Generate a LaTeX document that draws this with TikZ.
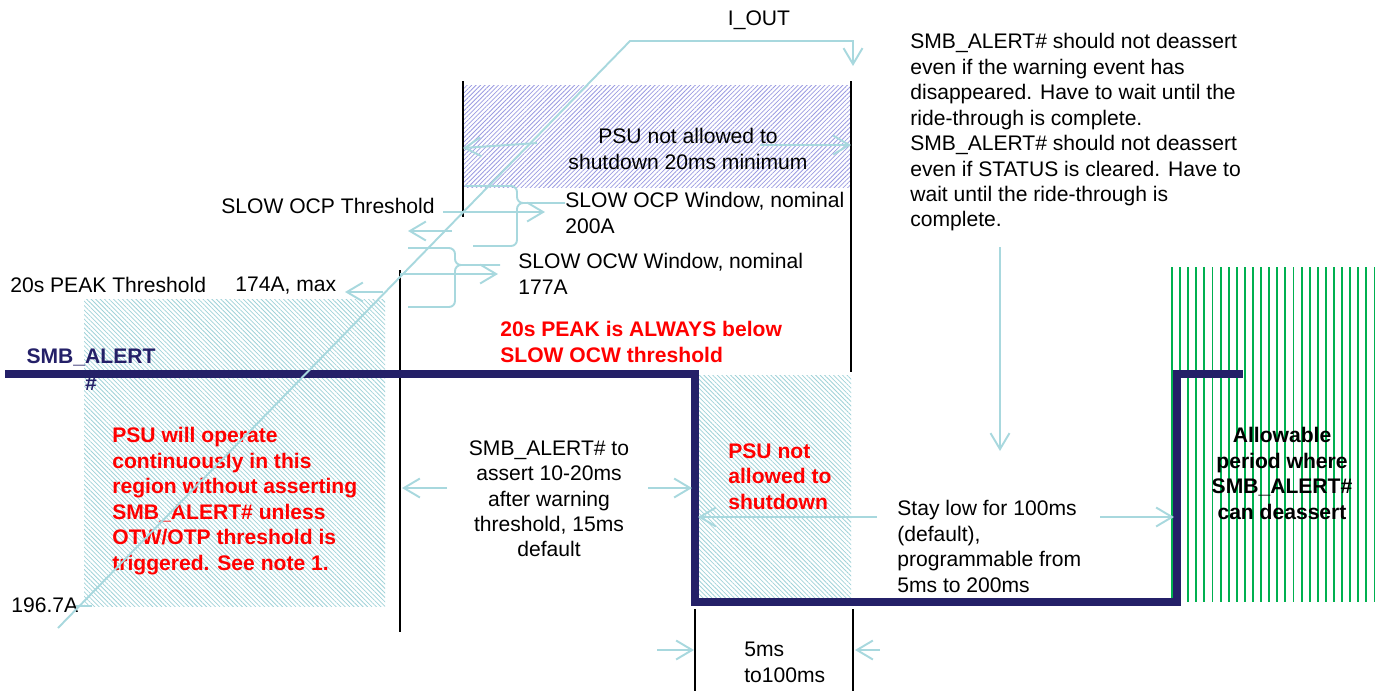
\documentclass[tikz,border=0pt]{standalone}
\usepackage{fontspec}
\setmainfont{Liberation Sans}
\usepackage{tikz}
\usetikzlibrary{arrows.meta,patterns.meta}
\definecolor{sigblue}{RGB}{36,32,104}
\definecolor{dimblue}{RGB}{168,216,222}
\definecolor{hatchblue}{RGB}{160,210,216}
\definecolor{hatchviolet}{RGB}{155,155,225}
\definecolor{okgreen}{RGB}{0,176,80}

\begin{document}
\begin{tikzpicture}[x=0.02cm, y=-0.02cm,
    txt/.style={inner sep=0pt, align=left, font=\fontsize{12}{14.5}\selectfont},
    alert/.style={txt, text=red, font=\fontsize{12}{14.5}\selectfont\bfseries},
    sigtxt/.style={txt, text=sigblue, font=\fontsize{12}{15.5}\selectfont\bfseries},
    dimline/.style={dimblue, line width=1.1pt},
    dimarrow/.style={dimline, -{Straight Barb[length=0.32cm,width=0.38cm]}},
    bracepath/.style={dimline, rounded corners=0.12cm},
    markline/.style={black, line width=1.4pt},
    smbline/.style={sigblue, line width=4pt},
    okline/.style={okgreen, line width=1.1pt},
    hatchup/.style={pattern={Lines[angle=45,distance=1.8pt,line width=0.45pt]}, pattern color=hatchviolet},
    hatchdown/.style={pattern={Lines[angle=-45,distance=1.8pt,line width=0.45pt]}, pattern color=hatchblue}
]
\useasboundingbox (0,0) rectangle (1377,691);

\path[hatchup] (463,85) rectangle (851,187);
\path[hatchdown] (84,299) rectangle (385,606);
\path[hatchdown] (698,375) rectangle (851,598);
\foreach \k in {0,...,25}
    \draw[okline] ({1172+8.1*\k},267) -- ({1172+8.1*\k},602);

\draw[markline] (463,81) -- (463,217);
\draw[markline] (851,81) -- (851,372);
\draw[markline] (400,270) -- (400,632);
\draw[markline] (695,609) -- (695,691);
\draw[markline] (853,609) -- (853,691);

\draw[smbline] (5,374) -- (695,374) -- (695,602) -- (1177,602) -- (1177,374) -- (1243,374);

\node[txt, anchor=north] (iout) at (759,10) {I\_OUT};
\node[txt, anchor=north west] (note) at (910,33) {SMB\_ALERT\# should not deassert\\even if the warning event has\\disappeared. Have to wait until the\\ride-through is complete.\\SMB\_ALERT\# should not deassert\\even if STATUS is cleared. Have to\\wait until the ride-through is\\complete.};
\node[txt, anchor=north, align=center] (nosd20) at (688,128) {PSU not allowed to\\shutdown 20ms minimum};
\node[txt, anchor=north east] (ocpthr) at (435,198) {SLOW OCP Threshold};
\node[txt, anchor=north west] (ocpwin) at (565,192) {SLOW OCP Window, nominal\\200A};
\node[txt, anchor=north west] (ocwwin) at (518,253) {SLOW OCW Window, nominal\\177A};
\node[txt, anchor=north west] (peakthr) at (10,277) {20s PEAK Threshold};
\node[txt, anchor=north west] (peakmax) at (235,277) {174A, max};
\node[alert, anchor=north west] (peaknote) at (500,321) {20s PEAK is ALWAYS below\\SLOW OCW threshold};
\node[sigtxt, anchor=north, align=center] (smbname) at (91,348) {SMB\_ALERT\\\#};
\node[alert, anchor=north west] (contnote) at (112,427) {PSU will operate\\continuously in this\\region without asserting\\SMB\_ALERT\# unless\\OTW/OTP threshold is\\triggered. See note 1.};
\node[txt, anchor=north west] (peakval) at (11,597) {196.7A};
\node[txt, anchor=north, align=center] (assertnote) at (549,440) {SMB\_ALERT\# to\\assert 10-20ms\\after warning\\threshold, 15ms\\default};
\node[alert, anchor=north west] (nosd) at (728,443) {PSU not\\allowed to\\shutdown};
\node[txt, anchor=north west] (staylow) at (897,500) {Stay low for 100ms\\(default),\\programmable from\\5ms to 200ms};
\node[txt, anchor=north west] (lowmin) at (744,642) {5ms\\to100ms};
\node[txt, anchor=north, align=center, font=\fontsize{12}{14.5}\selectfont\bfseries] (deassert) at (1282,427) {Allowable\\period where\\SMB\_ALERT\#\\can deassert};

\coordinate (ilow) at (58,628);
\coordinate (iknee) at (630,41);
\coordinate (itop) at (853,41);
\coordinate (itip) at (853,66);
\draw[dimarrow] (ilow) -- (iknee) -- (itop) -- (itip);
\draw[dimline] (76,606) -- (92,606);

\coordinate (winL) at (463,148);
\coordinate (winR) at (851,145);
\draw[dimarrow] (537,143) -- (winL);
\draw[dimarrow] (760,145) -- (winR);

\coordinate (ocpA) at (443,212);
\coordinate (ocpB) at (545,212);
\coordinate (ocwA) at (400,274);
\coordinate (ocwB) at (498,274);
\draw[dimarrow] (ocpA) -- (ocpB);
\draw[dimarrow] (452,231) -- (408,231);
\draw[dimarrow] (ocwA) -- (ocwB);
\draw[dimarrow] (383,292) -- (345,292);

\draw[bracepath] (465,186) -- (517,186) -- (517,203) -- (565,203);
\draw[bracepath] (545,203) -- (517,203) -- (517,246) -- (473,246);
\draw[bracepath] (408,248) -- (455,248) -- (455,265) -- (500,265);
\draw[bracepath] (480,265) -- (455,265) -- (455,307) -- (408,307);

\coordinate (astL) at (402,488);
\coordinate (astR) at (692,488);
\draw[dimarrow] (447,488) -- (astL);
\draw[dimarrow] (648,488) -- (astR);

\coordinate (lowL) at (698,517);
\coordinate (lowR) at (1174,517);
\draw[dimarrow] (877,517) -- (lowL);
\draw[dimarrow] (1100,517) -- (lowR);
\draw[dimarrow] (1000,247) -- (1000,451);

\coordinate (minL) at (694,650);
\coordinate (minR) at (855,650);
\draw[dimarrow] (657,650) -- (minL);
\draw[dimarrow] (880,650) -- (minR);
\end{tikzpicture}
\end{document}
